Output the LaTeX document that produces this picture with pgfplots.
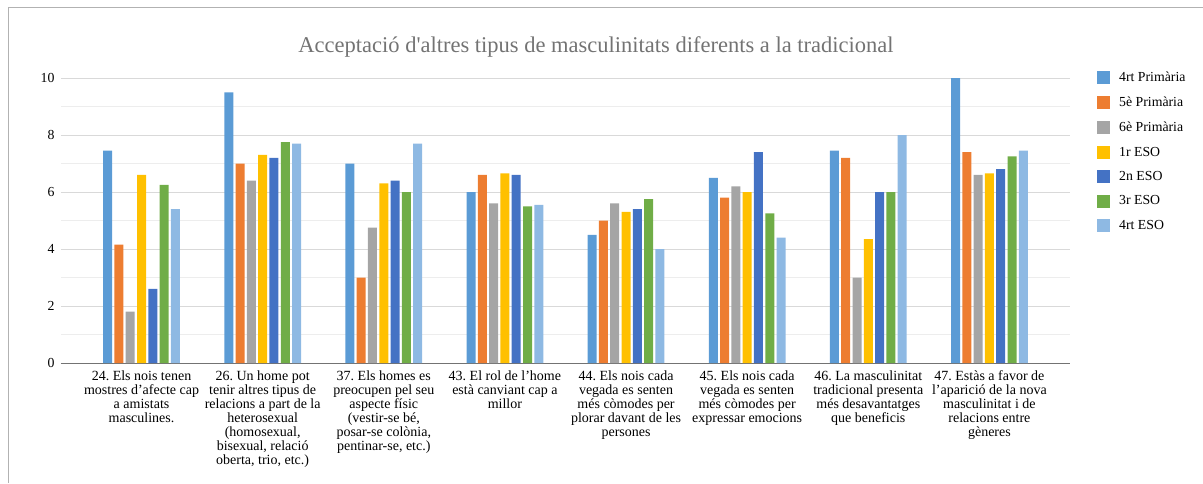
\documentclass[border=0pt]{standalone}
\usepackage{fontspec}
\setmainfont{Liberation Serif}
\usepackage{pgfplots}
\pgfplotsset{compat=1.18}
\definecolor{cA}{HTML}{5B9BD5}
\definecolor{cB}{HTML}{ED7D31}
\definecolor{cC}{HTML}{A5A5A5}
\definecolor{cD}{HTML}{FFC000}
\definecolor{cE}{HTML}{4472C4}
\definecolor{cF}{HTML}{70AD47}
\definecolor{cG}{HTML}{8EB9E3}
\definecolor{gridc}{HTML}{D9D9D9}
\definecolor{gridm}{HTML}{EDEDED}
\newcommand{\lblfont}{\fontsize{13.8}{15}\selectfont\frenchspacing}
\newcommand{\xlblfont}{\fontsize{14}{14}\selectfont\frenchspacing}
\begin{document}
\begin{tikzpicture}
\useasboundingbox (-61pt,-120pt) rectangle (1142pt,363pt);
\draw[color=gray!60, line width=0.8pt] (-53pt,-120pt) -- (-53pt,356pt) -- (1142pt,356pt);
\node[font=\fontsize{22.5}{26}\selectfont, text=black!55] at (535pt,316pt) {Acceptació d\textquotesingle altres tipus de masculinitats diferents a la tradicional};
\begin{axis}[
  at={(0pt,0pt)}, anchor=south west,
  scale only axis, width=1009pt, height=285pt,
  xmin=-0.665, xmax=7.665, ymin=0, ymax=10,
  ybar=2.3pt, bar width=9pt,
  axis x line*=bottom, axis y line*=left,
  y axis line style={draw=none},
  x axis line style={draw=black!55, line width=0.9pt},
  major tick length=0pt, minor tick length=0pt,
  ytick={0,2,4,6,8,10},
  minor ytick={1,3,5,7,9},
  ymajorgrids, yminorgrids,
  major grid style={draw=gridc, line width=0.8pt},
  minor grid style={draw=gridm, line width=0.8pt},
  /pgf/number format/assume math mode=true,
  yticklabel style={font=\lblfont, xshift=-3pt},
  xtick={0,1,2,3,4,5,6,7},
  xticklabels={
    {24. Els nois tenen\\mostres d’afecte cap\\a amistats\\masculines.},
    {26. Un home pot\\tenir altres tipus de\\relacions a part de la\\heterosexual\\(homosexual,\\bisexual, relació\\oberta, trio, etc.)},
    {37. Els homes es\\preocupen pel seu\\aspecte físic\\(vestir-se bé,\\posar-se colònia,\\pentinar-se, etc.)},
    {43. El rol de l’home\\està canviant cap a\\millor},
    {44. Els nois cada\\vegada es senten\\més còmodes per\\plorar davant de les\\persones},
    {45. Els nois cada\\vegada es senten\\més còmodes per\\expressar emocions},
    {46. La masculinitat\\tradicional presenta\\més desavantatges\\que beneficis},
    {47. Estàs a favor de\\l’aparició de la nova\\masculinitat i de\\relacions entre\\gèneres}},
  xticklabel style={font=\xlblfont, align=center, yshift=-4pt},
  legend style={at={(1.0268,1.028)}, anchor=north west, draw=none, fill=none,
    font=\lblfont, row sep=9.8pt, inner sep=0pt},
  legend cell align=left,
  legend image code/.code={\fill[#1, draw=none] (0pt,-6.5pt) rectangle (13pt,6.5pt); \path (20pt,0pt);},
  every axis plot/.append style={draw=none},
]
\addplot[fill=cA] coordinates {(0,7.45) (1,9.5) (2,7.0) (3,6.0) (4,4.5) (5,6.5) (6,7.45) (7,10.0)};
\addplot[fill=cB] coordinates {(0,4.15) (1,7.0) (2,3.0) (3,6.6) (4,5.0) (5,5.8) (6,7.2) (7,7.4)};
\addplot[fill=cC] coordinates {(0,1.8) (1,6.4) (2,4.75) (3,5.6) (4,5.6) (5,6.2) (6,3.0) (7,6.6)};
\addplot[fill=cD] coordinates {(0,6.6) (1,7.3) (2,6.3) (3,6.65) (4,5.3) (5,6.0) (6,4.35) (7,6.65)};
\addplot[fill=cE] coordinates {(0,2.6) (1,7.2) (2,6.4) (3,6.6) (4,5.4) (5,7.4) (6,6.0) (7,6.8)};
\addplot[fill=cF] coordinates {(0,6.25) (1,7.75) (2,6.0) (3,5.5) (4,5.75) (5,5.25) (6,6.0) (7,7.25)};
\addplot[fill=cG] coordinates {(0,5.4) (1,7.7) (2,7.7) (3,5.55) (4,4.0) (5,4.4) (6,8.0) (7,7.45)};
\legend{4rt Primària, 5è Primària, 6è Primària, 1r ESO, 2n ESO, 3r ESO, 4rt ESO}
\end{axis}
\end{tikzpicture}
\end{document}
